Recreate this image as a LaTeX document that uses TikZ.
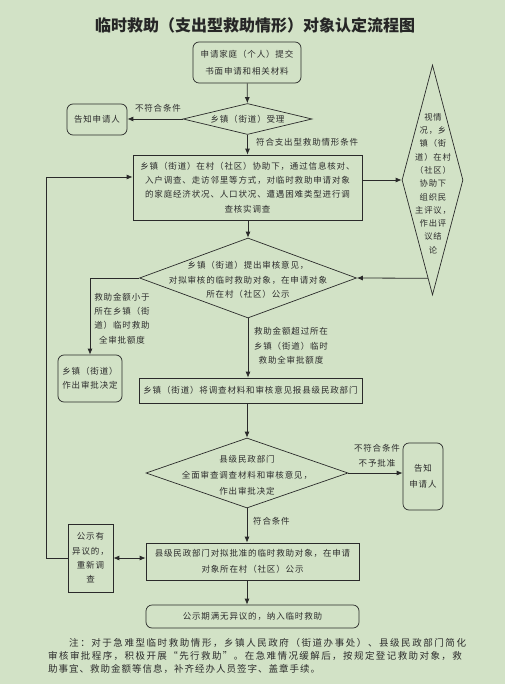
\documentclass[tikz,border=0pt]{standalone}
\usepackage{fontspec}
\newfontfamily\cjk[LetterSpace=10]{Noto Sans CJK SC}
\newfontfamily\cjkt{Noto Sans CJK SC}
\newfontfamily\cjknote{Noto Sans CJK SC}
\usetikzlibrary{shapes.geometric,arrows.meta,calc}
\definecolor{bg}{HTML}{D2E2C6}
\definecolor{ln}{HTML}{2A2A2A}
\definecolor{tx}{HTML}{2C2C2C}
\newcommand\bodyfont{\cjk\fontsize{8.5}{14.4}\selectfont}
\newcommand\rdfont{\cjk\fontsize{8.3}{13.3}\selectfont}
\begin{document}
\begin{tikzpicture}[x=1pt,y=-1pt,
  box/.style={draw=ln,line width=0.7pt,inner sep=0pt,align=center,font=\bodyfont,text=tx},
  rbox/.style={box,rounded corners=6pt},
  dia/.style={draw=ln,line width=0.7pt,shape=diamond,inner sep=0pt},
  lbl/.style={inner sep=0pt,align=center,font=\bodyfont,text=tx},
  arr/.style={draw=ln,line width=0.8pt,-{Latex[length=6pt,width=5pt]}},
  darr/.style={draw=ln,line width=0.8pt,{Latex[length=6pt,width=5pt]}-{Latex[length=6pt,width=5pt]}},
  ln0/.style={draw=ln,line width=0.8pt}]
\fill[bg] (0,0) rectangle (505,684);
\useasboundingbox (0,0) rectangle (505,684);

\node[inner sep=0pt,font=\cjkt\bfseries\fontsize{16}{16}\selectfont,text=black!85] (title) at (255,25) {临时救助（支出型救助情形）对象认定流程图};

\node[rbox,minimum width=108pt,minimum height=41pt,font=\cjk\fontsize{8.5}{17}\selectfont] (n1) at (247,62.5) {申请家庭（个人）提交\\书面申请和相关材料};

\node[dia,minimum width=129pt,minimum height=31pt] (d1) at (247.5,119) {};
\node[lbl] (d1t) at (d1) {乡镇（街道）受理};

\node[rbox,minimum width=60pt,minimum height=31pt] (no1) at (97,119.5) {告知申请人};

\node[box,minimum width=229pt,minimum height=65pt] (b1) at (247.5,187.5) {乡镇（街道）在村（社区）协助下，通过信息核对、\\入户调查、走访邻里等方式，对临时救助申请对象\\的家庭经济状况、人口状况、遭遇困难类型进行调\\查核实调查};

\node[dia,minimum width=61pt,minimum height=230pt] (rd) at (432.5,180) {};
\node[lbl,font=\rdfont] (rdt) at (433,183.5) {视情\\况，乡\\镇（街\\道）在村\\（社区）\\协助下\\组织民\\主评议，\\作出评\\议结\\论};

\node[dia,minimum width=217pt,minimum height=80pt] (d2) at (248,278) {};
\node[lbl] (d2t) at (248,280) {乡镇（街道）提出审核意见，\\对拟审核的临时救助对象，在申请对象\\所在村（社区）公示};

\node[rbox,minimum width=64pt,minimum height=47pt] (sd) at (90,378.5) {乡镇（街道）\\作出审批决定};

\node[box,minimum width=223pt,minimum height=25pt] (b2) at (250.5,390.5) {乡镇（街道）将调查材料和审核意见报县级民政部门};

\node[dia,minimum width=202pt,minimum height=70pt] (d3) at (247,473) {};
\node[lbl,font=\cjk\fontsize{8.5}{16}\selectfont] (d3t) at (247,475) {县级民政部门\\全面审查调查材料和审核意见，\\作出审批决定};

\node[rbox,minimum width=40pt,minimum height=67pt,font=\cjk\fontsize{8.5}{16}\selectfont] (no2) at (423,476.5) {告知\\申请人};

\node[box,minimum width=213pt,minimum height=37pt,font=\cjk\fontsize{8.5}{16}\selectfont] (b3) at (252.5,561.5) {县级民政部门对拟批准的临时救助对象，在申请\\对象所在村（社区）公示};

\node[box,minimum width=45pt,minimum height=68pt] (ob) at (90.5,558) {公示有\\异议的，\\重新调\\查};

\node[rbox,minimum width=213pt,minimum height=23pt] (fin) at (252.5,616.5) {公示期满无异议的，纳入临时救助};

% connectors
\draw[arr] (n1) -- (d1);
\draw[arr] (d1.west) -- (no1.east |- d1.west);
\node[lbl] (l1) at (158,108) {不符合条件};
\draw[arr] (d1.south) -- (d1.south |- b1.north);
\node[lbl,anchor=west] (l2) at (256,142) {符合支出型救助情形条件};
\draw[arr] (b1.east |- rd.west) -- (rd.west);
\draw[arr] ($(rd.south)!0.148!(rd.west)$) -- (d2.east);
\draw[arr] (d2.north |- b1.south) -- (d2.north);
\draw[arr] (d2.west) -- (sd.north |- d2.west) -- (sd.north);
\node[lbl] (l3) at (122,318.5) {救助金额小于\\所在乡镇（街\\道）临时救助\\全审批额度};
\draw[arr] (d2.south) -- (d2.south |- b2.north);
\node[lbl] (l4) at (291,346) {救助金额超过所在\\乡镇（街道）临时\\救助全审批额度};
\draw[arr] (d3.north |- b2.south) -- (d3.north);
\draw[arr] (d3.east) -- (no2.west |- d3.east);
\node[lbl,font=\cjk\fontsize{8.5}{15}\selectfont] (l5) at (377,455.5) {不符合条件\\不予批准};
\draw[arr] (d3.south) -- (d3.south |- b3.north);
\node[lbl,anchor=west] (l6) at (253,521) {符合条件};
\draw[darr] (ob.east) -- (b3.west |- ob.east);
\draw[arr] (ob.west) -- ++(-21,0) |- ([yshift=10.5pt]b1.west);
\draw[arr] (d3.south |- b3.south) -- (d3.south |- fin.north);

% note
\node[inner sep=0pt,anchor=west,text=tx,font=\cjknote\fontsize{9.5}{9.5}\selectfont\addfontfeature{LetterSpace=16.5}] (nt1) at (69,643) {注：对于急难型临时救助情形，乡镇人民政府（街道办事处）、县级民政部门简化};
\node[inner sep=0pt,anchor=west,text=tx,font=\cjknote\fontsize{9.5}{9.5}\selectfont\addfontfeature{LetterSpace=15}] (nt2) at (48,656) {审核审批程序，积极开展“先行救助”。在急难情况缓解后，按规定登记救助对象，救};
\node[inner sep=0pt,anchor=west,text=tx,font=\cjknote\fontsize{9.5}{9.5}\selectfont\addfontfeature{LetterSpace=10.5}] (nt3) at (48,669) {助事宜、救助金额等信息，补齐经办人员签字、盖章手续。};
\end{tikzpicture}
\end{document}
